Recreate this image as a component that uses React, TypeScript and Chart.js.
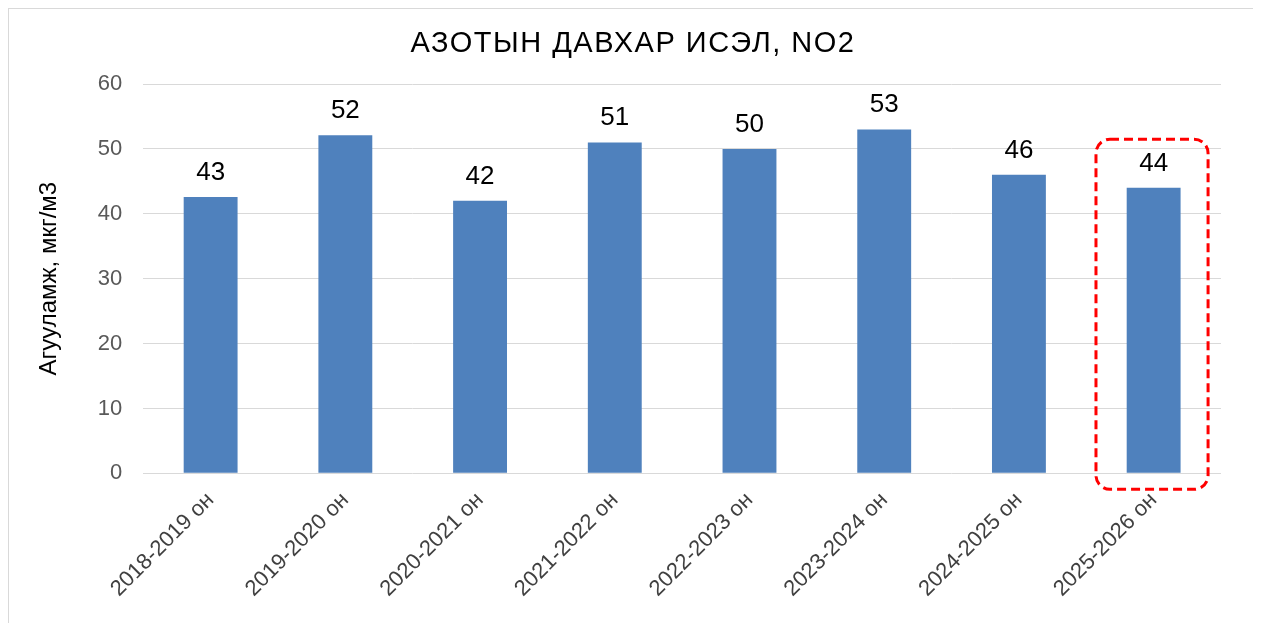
import React, { useEffect, useRef } from "react";
import { Chart, registerables } from "chart.js";

Chart.register(...registerables);

const categories = [
  "2018-2019 он",
  "2019-2020 он",
  "2020-2021 он",
  "2021-2022 он",
  "2022-2023 он",
  "2023-2024 он",
  "2024-2025 он",
  "2025-2026 он",
];
const values = [42.6, 52.1, 42, 51, 50, 53, 46, 44];
const dataLabels = ["43", "52", "42", "51", "50", "53", "46", "44"];
const yTicks = [0, 10, 20, 30, 40, 50, 60];
const titleText = "АЗОТЫН ДАВХАР ИСЭЛ, NO2";
const yTitleText = "Агууламж, мкг/м3";
const highlightIndex = 7;

const FONT = "'Liberation Sans', Arial, sans-serif";

const titlePlugin = {
  id: "customTitle",
  afterDraw(chart: any) {
    const ctx = chart.ctx;
    ctx.save();
    ctx.font = `29px ${FONT}`;
    try {
      (ctx as any).letterSpacing = "1.5px";
    } catch (e) {}
    ctx.fillStyle = "#000000";
    ctx.textAlign = "center";
    ctx.textBaseline = "alphabetic";
    ctx.fillText(titleText, chart.width / 2 + 1, 43);
    ctx.restore();
  },
};

const labelPlugin = {
  id: "barLabels",
  afterDatasetsDraw(chart: any) {
    const ctx = chart.ctx;
    const meta = chart.getDatasetMeta(0);
    ctx.save();
    ctx.font = `26px ${FONT}`;
    ctx.fillStyle = "#000000";
    ctx.textAlign = "center";
    ctx.textBaseline = "alphabetic";
    meta.data.forEach((bar: any, i: number) => {
      ctx.fillText(dataLabels[i], bar.x, bar.y - 17);
    });
    ctx.restore();
  },
};

const highlightPlugin = {
  id: "highlightBox",
  afterDatasetsDraw(chart: any) {
    const ctx = chart.ctx;
    const xs = chart.scales.x;
    const ys = chart.scales.y;
    const cw = xs.width / categories.length;
    const cx = xs.getPixelForValue(highlightIndex);
    const left = cx - cw * 0.428;
    const right = cx + cw * 0.404;
    const top = ys.getPixelForValue(51.5);
    const bottom = ys.getPixelForValue(0) + 16;
    const r = 14;
    ctx.save();
    ctx.strokeStyle = "#ff0000";
    ctx.lineWidth = 3;
    ctx.setLineDash([9, 5]);
    ctx.beginPath();
    ctx.moveTo(left + r, top);
    ctx.lineTo(right - r, top);
    ctx.arcTo(right, top, right, top + r, r);
    ctx.lineTo(right, bottom - r);
    ctx.arcTo(right, bottom, right - r, bottom, r);
    ctx.lineTo(left + r, bottom);
    ctx.arcTo(left, bottom, left, bottom - r, r);
    ctx.lineTo(left, top + r);
    ctx.arcTo(left, top, left + r, top, r);
    ctx.closePath();
    ctx.stroke();
    ctx.restore();
  },
};

export default function App() {
  const ref = useRef<HTMLCanvasElement | null>(null);

  useEffect(() => {
    if (!ref.current) return;
    const chart = new Chart(ref.current, {
      type: "bar",
      data: {
        labels: categories,
        datasets: [
          {
            data: values,
            backgroundColor: "#4f81bd",
            borderWidth: 0,
            barPercentage: 0.4,
            categoryPercentage: 1,
          },
        ],
      },
      options: {
        responsive: false,
        animation: false,
        layout: { padding: { left: 0, right: 34, top: 75, bottom: 21 } },
        plugins: {
          legend: { display: false },
          tooltip: { enabled: false },
          title: { display: false },
        },
        scales: {
          x: {
            grid: { display: false, drawTicks: false },
            border: { display: false },
            ticks: {
              color: "#404040",
              font: { family: FONT, size: 22 },
              maxRotation: 45,
              minRotation: 45,
              padding: 14,
              autoSkip: false,
            },
          },
          y: {
            min: 0,
            max: 60,
            afterBuildTicks: (axis: any) => {
              axis.ticks = yTicks.map((v) => ({ value: v }));
            },
            grid: { color: "#d9d9d9", lineWidth: 1, drawTicks: false },
            border: { display: false },
            ticks: {
              color: "#595959",
              font: { family: FONT, size: 22 },
              padding: 21,
            },
            title: {
              display: true,
              text: yTitleText,
              color: "#000000",
              font: { family: FONT, size: 24 },
              padding: { top: 26, bottom: 13 },
            },
          },
        },
      },
      plugins: [labelPlugin, highlightPlugin, titlePlugin],
    });
    return () => chart.destroy();
  }, []);

  return (
    <div
      style={{
        width: 1246,
        height: 628,
        border: "1px solid #d9d9d9",
        background: "#ffffff",
      }}
    >
      <canvas ref={ref} width={1246} height={628} style={{ display: "block" }} />
    </div>
  );
}
